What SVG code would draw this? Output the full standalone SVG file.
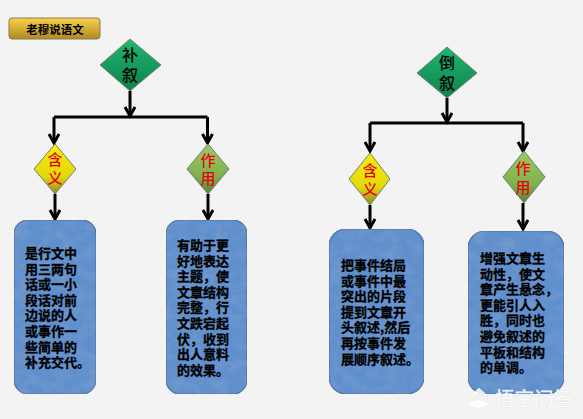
<svg xmlns="http://www.w3.org/2000/svg" width="583" height="419" viewBox="0 0 583 419">
<style>
.cjk{font-family:"Noto Sans CJK SC","Liberation Sans",sans-serif}
.conn{fill:none;stroke:#000;stroke-width:3}
.box{stroke:#4f6f9a;stroke-width:1.2;fill:#5e8fcc;filter:url(#tex)}
.body{font-size:13px;font-weight:700;fill:#000;stroke:#000;stroke-width:.3}
.big{font-size:16px;fill:#000;text-anchor:middle;font-weight:500}
.red{font-size:15px;fill:#e8000c;text-anchor:middle;font-weight:500}
.dia{stroke:#6f7f6f;stroke-width:1}
.wm{fill:#fff;fill-opacity:.85;stroke:#dedede;stroke-width:.5;paint-order:stroke}
</style>
<defs>
<linearGradient id="gold" x1="0" y1="0" x2="0" y2="1"><stop offset="0" stop-color="#f8d24a"/><stop offset="1" stop-color="#b08a24"/></linearGradient>
<linearGradient id="green" x1="0" y1="0" x2="0" y2="1"><stop offset="0" stop-color="#1cb86e"/><stop offset="1" stop-color="#11804e"/></linearGradient>
<linearGradient id="yellow" x1="0" y1="0" x2="0" y2="1"><stop offset="0" stop-color="#f6ee0a"/><stop offset="0.65" stop-color="#e4d80a"/><stop offset="1" stop-color="#8f8a22"/></linearGradient>
<linearGradient id="lime" x1="0" y1="0" x2="0" y2="1"><stop offset="0" stop-color="#9ccb62"/><stop offset="0.65" stop-color="#7fb04c"/><stop offset="1" stop-color="#5b7f3a"/></linearGradient>
<filter id="tex" x="0" y="0" width="1" height="1"><feTurbulence type="fractalNoise" baseFrequency="0.07 0.1" numOctaves="3" seed="4" result="n"/><feColorMatrix in="n" type="matrix" values="0 0 0 0 1  0 0 0 0 1  0 0 0 0 1  1.2 0 0 0 -0.42" result="w"/><feComposite in="w" in2="SourceAlpha" operator="in" result="c"/><feComponentTransfer in="c" result="s"><feFuncA type="linear" slope="0.1"/></feComponentTransfer><feMerge><feMergeNode in="SourceGraphic"/><feMergeNode in="s"/></feMerge></filter>
<marker id="arr" markerUnits="userSpaceOnUse" markerWidth="14" markerHeight="14" refX="10" refY="6" orient="auto"><path d="M1 1L10 6L1 11" fill="none" stroke="#000" stroke-width="3"/></marker>
</defs>
<rect width="583" height="419" fill="#f3f3f3"/>
<g id="connectors" class="conn">
<path d="M130 91V116" marker-end="url(#arr)"/>
<path d="M54 117H207.500"/>
<path d="M54 117V143" marker-end="url(#arr)"/>
<path d="M207.500 117V143" marker-end="url(#arr)"/>
<path d="M55 194V219" marker-end="url(#arr)"/>
<path d="M208 194V219" marker-end="url(#arr)"/>
<path d="M447 98V122" marker-end="url(#arr)"/>
<path d="M370 123H523"/>
<path d="M370 123V151" marker-end="url(#arr)"/>
<path d="M523 123V151" marker-end="url(#arr)"/>
<path d="M370 205V228" marker-end="url(#arr)"/>
<path d="M523 203V229" marker-end="url(#arr)"/>
</g>
<g id="banner"><rect x="9" y="18" width="91" height="21" rx="3" fill="url(#gold)" stroke="#8a7a50"/><text class="cjk" x="55" y="33.500" font-size="11.500" font-weight="700" text-anchor="middle">老穆说语文</text></g>
<g id="bu"><polygon class="dia" points="130,39 161,65 130,91 100,65" fill="url(#green)"/><text class="cjk big"><tspan x="130" y="61">补</tspan><tspan x="130" y="81">叙</tspan></text></g>
<g id="dao"><polygon class="dia" points="447,47 477,73 447,98 417,73" fill="url(#green)"/><text class="cjk big"><tspan x="447" y="69">倒</tspan><tspan x="447" y="89">叙</tspan></text></g>
<g id="hy1"><polygon class="dia" points="55,144 76,169 55,194 34,169" fill="url(#yellow)"/><text class="cjk red"><tspan x="55" y="165">含</tspan><tspan x="55" y="184">义</tspan></text></g>
<g id="zy1"><polygon class="dia" points="208,144 229,169 208,194 187,169" fill="url(#lime)"/><text class="cjk red"><tspan x="208" y="165.500">作</tspan><tspan x="208" y="184">用</tspan></text></g>
<g id="hy2"><polygon class="dia" points="370,153 390,179 370,205 349,179" fill="url(#yellow)"/><text class="cjk red"><tspan x="370" y="175.500">含</tspan><tspan x="370" y="195">义</tspan></text></g>
<g id="zy2"><polygon class="dia" points="524,151 545,177 524,203 503,177" fill="url(#lime)"/><text class="cjk red"><tspan x="523" y="174">作</tspan><tspan x="523" y="193">用</tspan></text></g>
<g id="b1"><rect class="box" x="14" y="220" width="82" height="174" rx="14"/><text class="cjk body"><tspan x="25" y="258">是行文中</tspan><tspan x="25" y="273.600">用三两句</tspan><tspan x="25" y="289.200">话或一小</tspan><tspan x="25" y="304.800">段话对前</tspan><tspan x="25" y="320.400">边说的人</tspan><tspan x="25" y="336">或事作一</tspan><tspan x="25" y="351.600">些简单的</tspan><tspan x="25" y="367.200">补充交代。</tspan></text></g>
<g id="b2"><rect class="box" x="166" y="220" width="81" height="174" rx="14"/><text class="cjk body"><tspan x="177" y="250">有助于更</tspan><tspan x="177" y="265.600">好地表达</tspan><tspan x="177" y="281.200">主题，使</tspan><tspan x="177" y="296.800">文章结构</tspan><tspan x="177" y="312.400">完整，行</tspan><tspan x="177" y="328">文跌宕起</tspan><tspan x="177" y="343.600">伏，收到</tspan><tspan x="177" y="359.200">出人意料</tspan><tspan x="177" y="374.800">的效果。</tspan></text></g>
<g id="b3"><rect class="box" x="329" y="229" width="95" height="165" rx="17"/><text class="cjk body"><tspan x="341" y="270">把事件结局</tspan><tspan x="341" y="285.600">或事件中最</tspan><tspan x="341" y="301.200">突出的片段</tspan><tspan x="341" y="316.800">提到文章开</tspan><tspan x="341" y="332.400">头叙述,然后</tspan><tspan x="341" y="348">再按事件发</tspan><tspan x="341" y="363.600">展顺序叙述。</tspan></text></g>
<g id="b4"><rect class="box" x="468" y="231" width="96" height="163" rx="17"/><text class="cjk body"><tspan x="480" y="263">增强文章生</tspan><tspan x="480" y="278.600">动性，使文</tspan><tspan x="480" y="294.200">章产生悬念，</tspan><tspan x="480" y="309.800">更能引人入</tspan><tspan x="480" y="325.400">胜，同时也</tspan><tspan x="480" y="341">避免叙述的</tspan><tspan x="480" y="356.600">平板和结构</tspan><tspan x="480" y="372.200">的单调。</tspan></text></g>
<g id="watermark"><path class="wm" d="M467 404Q478 396 490 404Q478 412 467 404ZM470 396L479 388L488 396Q479 392 470 396Z"/><text class="cjk wm" x="495" y="406" font-size="19.500">悟空问答</text></g>
</svg>
